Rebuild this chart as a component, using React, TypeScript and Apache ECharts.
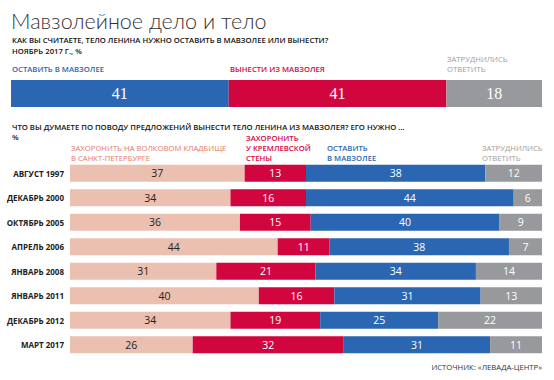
import React, { useEffect, useRef } from "react";
import * as echarts from "echarts";

const topCategories = ["Ноябрь 2017"];
const topLeave = [41];
const topRemove = [41];
const topHard = [18];

const categories = [
  "АВГУСТ 1997",
  "ДЕКАБРЬ 2000",
  "ОКТЯБРЬ 2005",
  "АПРЕЛЬ 2006",
  "ЯНВАРЬ 2008",
  "ЯНВАРЬ 2011",
  "ДЕКАБРЬ 2012",
  "МАРТ 2017",
];
const volkovo = [37, 34, 36, 44, 31, 40, 34, 26];
const kremlin = [13, 16, 15, 11, 21, 16, 19, 32];
const leave = [38, 44, 40, 38, 34, 31, 25, 31];
const hard = [12, 6, 9, 7, 14, 13, 22, 11];

const C_SALMON = "#ebc0b0";
const C_SALMON_TXT = "#e4786a";
const C_RED = "#d2063f";
const C_BLUE = "#2a66b1";
const C_GRAY = "#98999c";
const C_GRAY_TXT = "#9c9c9c";

const SANS = "'Open Sans', 'Noto Sans', sans-serif";

export default function App() {
  const ref = useRef<HTMLDivElement>(null);
  useEffect(() => {
    if (!ref.current) return;
    const chart = echarts.init(ref.current, null, { renderer: "svg" });

    const topLabel = {
      show: true,
      color: "#fff",
      fontFamily: "'Liberation Serif', serif",
      fontSize: 16,
      position: "inside",
    };
    const lowLabel = (color: string) => ({
      show: true,
      color,
      fontFamily: SANS,
      fontSize: 10.5,
      fontWeight: 400,
      position: "inside",
    });

    const txt = (
      x: number,
      y: number,
      text: string,
      fill: string,
      opts: any = {}
    ) => ({
      type: "text",
      x,
      y,
      style: {
        text,
        fill,
        font: opts.font || `600 7.7px ${SANS}`,
        textAlign: opts.align || "left",
        textVerticalAlign: "middle",
        lineHeight: opts.lineHeight || 10,
      },
    });

    chart.setOption({
      animation: false,
      grid: [
        { left: 11, width: 531, top: 80, height: 27 },
        { left: 70, width: 472, top: 161, height: 196 },
      ],
      xAxis: [
        { type: "value", gridIndex: 0, min: 0, max: 100, show: false },
        { type: "value", gridIndex: 1, min: 0, max: 100, show: false },
      ],
      yAxis: [
        {
          type: "category",
          gridIndex: 0,
          data: topCategories,
          show: false,
        },
        {
          type: "category",
          gridIndex: 1,
          data: categories,
          inverse: true,
          axisLine: { show: false },
          axisTick: { show: false },
          axisLabel: {
            color: "#222",
            fontFamily: SANS,
            fontWeight: 700,
            fontSize: 8,
            margin: 6,
          },
        },
      ],
      series: [
        {
          type: "bar",
          xAxisIndex: 0,
          yAxisIndex: 0,
          stack: "top",
          data: topLeave,
          barWidth: 27,
          itemStyle: { color: C_BLUE },
          label: topLabel,
        },
        {
          type: "bar",
          xAxisIndex: 0,
          yAxisIndex: 0,
          stack: "top",
          data: topRemove,
          barWidth: 27,
          itemStyle: { color: C_RED },
          label: topLabel,
        },
        {
          type: "bar",
          xAxisIndex: 0,
          yAxisIndex: 0,
          stack: "top",
          data: topHard,
          barWidth: 27,
          itemStyle: { color: C_GRAY },
          label: topLabel,
        },
        {
          type: "bar",
          xAxisIndex: 1,
          yAxisIndex: 1,
          stack: "low",
          data: volkovo,
          barWidth: 17,
          itemStyle: { color: C_SALMON },
          label: lowLabel("#222"),
        },
        {
          type: "bar",
          xAxisIndex: 1,
          yAxisIndex: 1,
          stack: "low",
          data: kremlin,
          barWidth: 17,
          itemStyle: { color: C_RED },
          label: lowLabel("#fff"),
        },
        {
          type: "bar",
          xAxisIndex: 1,
          yAxisIndex: 1,
          stack: "low",
          data: leave,
          barWidth: 17,
          itemStyle: { color: C_BLUE },
          label: lowLabel("#fff"),
        },
        {
          type: "bar",
          xAxisIndex: 1,
          yAxisIndex: 1,
          stack: "low",
          data: hard,
          barWidth: 17,
          itemStyle: { color: C_GRAY },
          label: lowLabel("#fff"),
        },
      ],
      graphic: [
        txt(11, 21, "Мавзолейное дело и тело", "#333", {
          font: `300 21.5px Lato, ${SANS}`,
        }),
        txt(
          12,
          40,
          "КАК ВЫ СЧИТАЕТЕ, ТЕЛО ЛЕНИНА НУЖНО ОСТАВИТЬ В МАВЗОЛЕЕ ИЛИ ВЫНЕСТИ?",
          "#111"
        ),
        txt(12, 51, "НОЯБРЬ 2017 Г., %", "#111"),
        txt(12, 69, "ОСТАВИТЬ В МАВЗОЛЕЕ", C_BLUE),
        txt(230, 69, "ВЫНЕСТИ ИЗ МАВЗОЛЕЯ", C_RED),
        txt(447, 64, "ЗАТРУДНИЛИСЬ\nОТВЕТИТЬ", C_GRAY_TXT, {
          font: `400 7.7px ${SANS}`,
        }),
        txt(
          12,
          127,
          "ЧТО ВЫ ДУМАЕТЕ ПО ПОВОДУ ПРЕДЛОЖЕНИЙ ВЫНЕСТИ ТЕЛО ЛЕНИНА ИЗ МАВЗОЛЕЯ? ЕГО НУЖНО ...",
          "#111"
        ),
        txt(12, 137, "%", "#111"),
        txt(71, 153, "ЗАХОРОНИТЬ НА ВОЛКОВОМ КЛАДБИЩЕ\nВ САНКТ-ПЕТЕРБУРГЕ", C_SALMON_TXT, {
          font: `400 7.7px ${SANS}`,
        }),
        txt(246, 148, "ЗАХОРОНИТЬ\nУ КРЕМЛЕВСКОЙ\nСТЕНЫ", C_RED),
        txt(327, 153, "ОСТАВИТЬ\nВ МАВЗОЛЕЕ", C_BLUE),
        txt(482, 153, "ЗАТРУДНИЛИСЬ\nОТВЕТИТЬ", C_GRAY_TXT, {
          font: `400 7.7px ${SANS}`,
        }),
        txt(542, 367, "ИСТОЧНИК: «ЛЕВАДА-ЦЕНТР»", "#333", {
          font: `400 7.7px ${SANS}`,
          align: "right",
        }),
      ],
    });
    return () => chart.dispose();
  }, []);
  return (
    <div
      ref={ref}
      style={{
        position: "absolute",
        left: 0,
        top: 0,
        width: 554,
        height: 380,
        background: "#fff",
      }}
    />
  );
}
